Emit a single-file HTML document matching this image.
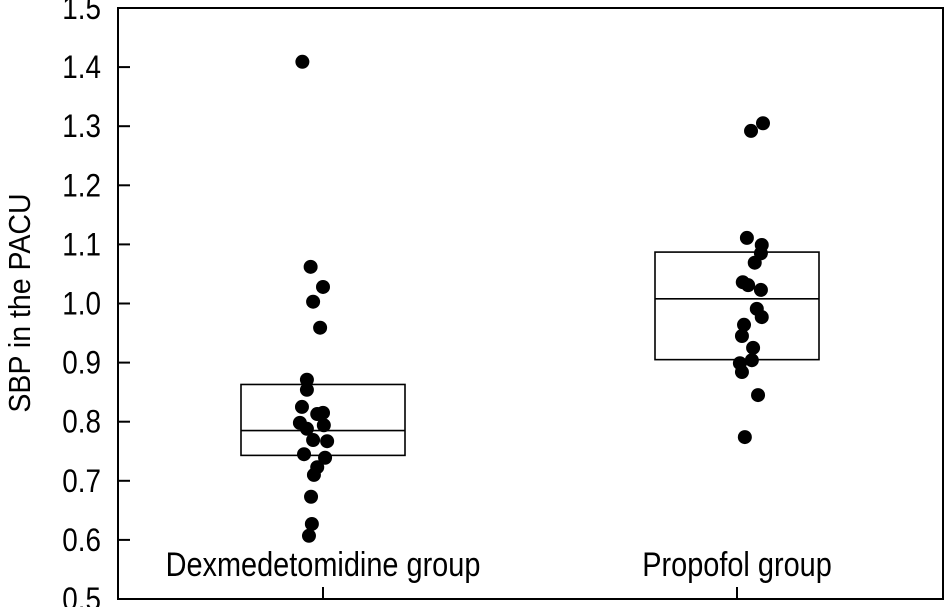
<!DOCTYPE html>
<html><head><meta charset="utf-8"><style>
html,body{margin:0;padding:0;background:#fff;}
svg{display:block;font-family:"Liberation Sans",sans-serif;}
</style></head><body>
<svg id="chart" width="946" height="607" viewBox="0 0 946 607"></svg>
<script>
const categories = ["Dexmedetomidine group", "Propofol group"];
const yTicks = [0.5,0.6,0.7,0.8,0.9,1.0,1.1,1.2,1.3,1.4,1.5];
const tickLabels = ["0.5","0.6","0.7","0.8","0.9","1.0","1.1","1.2","1.3","1.4","1.5"];
const boxQ1 = [0.743, 0.905];
const boxMedian = [0.785, 1.008];
const boxQ3 = [0.863, 1.087];
const dexValues = [1.409,1.062,1.028,1.003,0.959,0.871,0.854,0.825,0.813,0.815,0.794,0.798,0.788,0.769,0.767,0.745,0.739,0.723,0.710,0.673,0.627,0.607];
const dexJitter = [-0.05,-0.03,0.0,-0.024,-0.007,-0.039,-0.039,-0.051,-0.014,0.0,0.002,-0.056,-0.039,-0.024,0.01,-0.046,0.005,-0.014,-0.022,-0.029,-0.027,-0.034];
const propValues = [1.305,1.292,1.111,1.099,1.085,1.069,1.036,1.031,1.023,0.991,0.977,0.964,0.945,0.925,0.904,0.899,0.884,0.845,0.774];
const propJitter = [0.063,0.034,0.024,0.060,0.058,0.043,0.014,0.027,0.058,0.048,0.060,0.017,0.012,0.039,0.036,0.007,0.012,0.051,0.019];

const NS="http://www.w3.org/2000/svg";
const svg=document.getElementById('chart');
const L=118,R=943,T=8,B=599;
const yMin=0.5,yMax=1.5;
function yScale(v){return B-(v-yMin)/(yMax-yMin)*(B-T);}
const band=(R-L)/2;
function xScale(i){return i===0?323:737;}
function jx(i,j){return xScale(i)+j*band;}
function mk(tag,attrs,parent){const e=document.createElementNS(NS,tag);for(const k in attrs)e.setAttribute(k,attrs[k]);(parent||svg).appendChild(e);return e;}

const frame=mk('rect',{x:L,y:T,width:R-L,height:B-T,fill:'none',stroke:'#000','stroke-width':2});



yTicks.forEach((v,i)=>{
  const y=yScale(v);
  const t=mk('line',{x1:L,x2:L+12,y1:y,y2:y,stroke:'#000','stroke-width':2});
  
  
  const lb=mk('text',{x:0,y:0,'font-size':32,'text-anchor':'end',transform:`translate(101,${y+11}) scale(0.87,1)`});
  lb.textContent=tickLabels[i];
  
  
});

categories.forEach((c,i)=>{
  const x=xScale(i);
  const t=mk('line',{x1:x,x2:x,y1:B,y2:B-12,stroke:'#000','stroke-width':2});
  
  
  const lb=mk('text',{x:0,y:0,'font-size':34,'text-anchor':'middle',transform:`translate(${x},576) scale(0.85,1)`});
  lb.textContent=c;
  
  
  const bx0=x-82,bx1=x+82;
  const box=mk('rect',{x:bx0,y:yScale(boxQ3[i]),width:bx1-bx0,height:yScale(boxQ1[i])-yScale(boxQ3[i]),fill:'none',stroke:'#000','stroke-width':1.6});
  
  
  const m=mk('line',{x1:bx0,x2:bx1,y1:yScale(boxMedian[i]),y2:yScale(boxMedian[i]),stroke:'#000','stroke-width':1.6});
  
  
});

[[dexValues,dexJitter,0],[propValues,propJitter,1]].forEach(([vals,jit,i])=>{
  vals.forEach((v,k)=>{
    const p=mk('circle',{cx:jx(i,jit[k]),cy:yScale(v),r:7,fill:'#000'});
    
    
  });
});

const yt=mk('text',{x:0,y:0,'font-size':31,'text-anchor':'middle',transform:'translate(30,303) rotate(-90) scale(0.92,1)'});
yt.textContent='SBP in the PACU';


</script>
</body></html>
